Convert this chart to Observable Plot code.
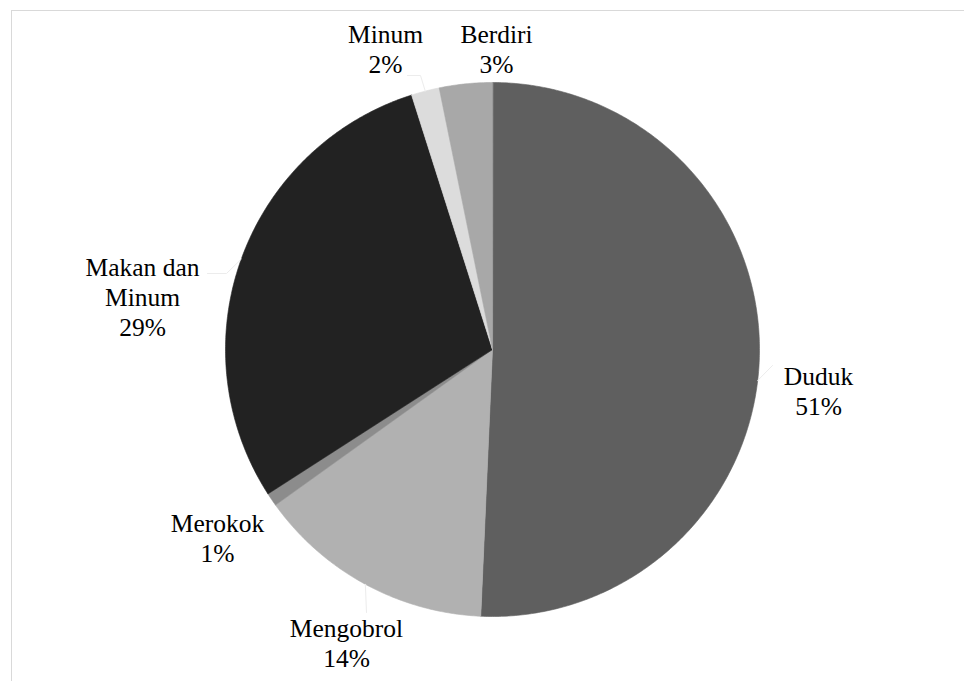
<!DOCTYPE html>
<html>
<head>
<meta charset="utf-8">
<script src="https://cdn.jsdelivr.net/npm/d3@7"></script>
<script src="https://cdn.jsdelivr.net/npm/@observablehq/plot@0.6"></script>
<style>
  html, body { margin: 0; padding: 0; background: #fff; overflow: hidden; }
  #wrap { position: relative; width: 964px; height: 681px; }
  #border { position: absolute; left: 11px; top: 10px; width: 1000px; height: 700px;
            border-top: 1px solid #d9d9d9; border-left: 1px solid #d9d9d9; }
  #chart { position: absolute; left: 0; top: 0; }
  #chart svg text { font-family: "Liberation Serif", "Times New Roman", Tinos, "DejaVu Serif", serif !important; }
</style>
</head>
<body>
<div id="wrap"><div id="border"></div><div id="chart"></div></div>
<script>
// ---- data ----
const categories = ["Duduk", "Mengobrol", "Merokok", "Makan dan Minum", "Minum", "Berdiri"];
const values = [50.7, 14.4, 0.8, 29.2, 1.7, 3.2];
const percentLabels = ["51%", "14%", "1%", "29%", "2%", "3%"];
const displayNames = ["Duduk", "Mengobrol", "Merokok", "Makan dan\nMinum", "Minum", "Berdiri"];
const colors = ["#5f5f5f", "#b1b1b1", "#8c8c8c", "#222222", "#dcdcdc", "#a8a8a8"];

// ---- layout (pixels relative to pie centre) ----
const R = 267;
const labelOffsets = {
  "Duduk": [326, 41],
  "Mengobrol": [-146, 293],
  "Merokok": [-275, 188],
  "Makan dan Minum": [-350, -53],
  "Minum": [-107, -301],
  "Berdiri": [4, -301]
};
const leaderElbows = {
  "Duduk": [[280, 16]],
  "Mengobrol": [[-126, 263]],
  "Makan dan Minum": [[-266, -76], [-285, -76]],
  "Minum": [[-72, -274], [-85, -274]]
};
const toData = ([dx, dy]) => [dx / R, -dy / R];

// ---- geometry ----
const total = d3.sum(values);
let acc = 0;
const slices = categories.map((c, i) => {
  const a0 = acc / total * 2 * Math.PI;
  acc += values[i];
  const a1 = acc / total * 2 * Math.PI;
  return {category: c, index: i, a0, a1, mid: (a0 + a1) / 2, color: colors[i],
          label: displayNames[i] + "\n" + percentLabels[i]};
});

const polyPoints = [];
for (const s of slices) {
  polyPoints.push({i: s.index, x: 0, y: 0, color: s.color});
  const n = Math.max(2, Math.ceil((s.a1 - s.a0) / (2 * Math.PI) * 720));
  for (let k = 0; k <= n; k++) {
    const a = s.a0 + (s.a1 - s.a0) * k / n;
    polyPoints.push({i: s.index, x: Math.sin(a), y: Math.cos(a), color: s.color});
  }
}

const leaderPoints = [];
for (const s of slices) {
  const el = leaderElbows[s.category];
  if (!el) continue;
  let start = [Math.sin(s.mid), Math.cos(s.mid)];
  if (s.category === "Duduk") {
    const dy = 31; start = [Math.sqrt(R * R - dy * dy) / R, -dy / R];
  }
  leaderPoints.push({i: s.index, x: start[0], y: start[1]});
  for (const p of el) {
    const [x, y] = toData(p);
    leaderPoints.push({i: s.index, x, y});
  }
}

const labels = slices.map(s => {
  const [x, y] = toData(labelOffsets[s.category]);
  return {x, y, label: s.label};
});

const chart = Plot.plot({
  width: 964,
  height: 681,
  margin: 0,
  x: {domain: [-1, 1], range: [225, 759], axis: null},
  y: {domain: [-1, 1], range: [616, 82], axis: null},
  color: {type: "identity"},
  style: {background: "transparent", fontFamily: "Liberation Serif, serif"},
  marks: [
    Plot.line(polyPoints, {x: "x", y: "y", z: "i", fill: "color", stroke: "color",
                           strokeWidth: 0.6, curve: "linear-closed"}),
    Plot.line(leaderPoints, {x: "x", y: "y", z: "i", stroke: "#ececec", strokeWidth: 1}),
    Plot.text(labels, {x: "x", y: "y", text: "label", fontSize: 25.5, lineHeight: 1.18,
                       fontFamily: "Liberation Serif, serif", fill: "#000", textAnchor: "middle"})
  ]
});
document.getElementById("chart").appendChild(chart);
</script>
</body>
</html>
